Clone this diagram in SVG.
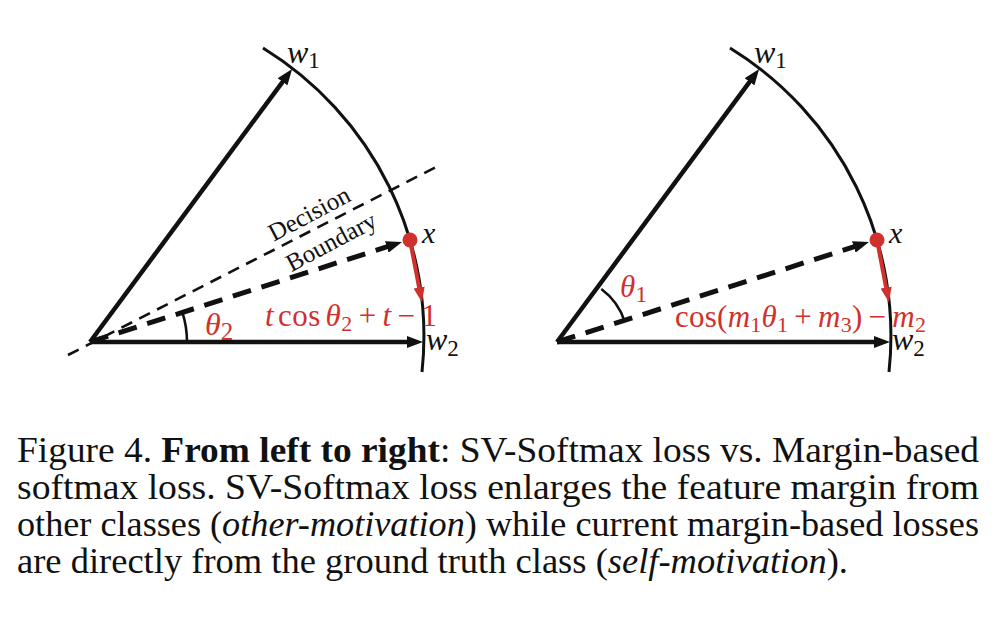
<svg xmlns="http://www.w3.org/2000/svg" width="998" height="630" viewBox="0 0 998 630">
<style>
.bg{fill:#ffffff}
.vec{stroke:#111;stroke-width:4.5;fill:none}
.arc{stroke:#111;stroke-width:3;fill:none}
.ang{stroke:#111;stroke-width:2.6;fill:none}
.dthin{stroke:#111;stroke-width:2.6;stroke-dasharray:12 8;fill:none}
.dthick{stroke:#111;stroke-width:5;stroke-dasharray:19 11;fill:none}
.red{stroke:#d0312d;stroke-width:4;fill:none}
.math{fill:#111}
.mred{fill:#d0312d}
.it{font-style:italic}
.db{font-size:25px;fill:#111}
.cap{font-size:36px;fill:#111}
</style>
<defs>
<marker id="ah" viewBox="0 0 16 12" refX="4" refY="6" markerWidth="16" markerHeight="12" markerUnits="userSpaceOnUse" orient="auto">
<path d="M0,0 L16,6 L0,12 z" fill="#111"/>
</marker>
<marker id="ahr" viewBox="0 0 16 12" refX="4" refY="6" markerWidth="15" markerHeight="13" markerUnits="userSpaceOnUse" orient="auto">
<path d="M0,0 L16,6 L0,12 z" fill="#d0312d"/>
</marker>
</defs>
<rect class="bg" x="0" y="0" width="998" height="630"/>

<g font-family="Liberation Serif, Times New Roman, Times, serif">
<!-- Left panel -->
<g id="left-panel">
<g id="left-arc"><path class="arc" d="M263,48 A338,338 0 0 1 422,372"/></g>
<g id="left-boundary"><line class="dthin" x1="68" y1="355" x2="440" y2="165"/></g>
<g id="left-angle"><path class="ang" d="M187,342 A97,97 0 0 0 182.4,312.3"/></g>
<g id="left-connectors">
<line class="vec" x1="90" y1="342" x2="285" y2="78.6" marker-end="url(#ah)"/>
<line class="vec" x1="90" y1="342" x2="411" y2="342" marker-end="url(#ah)"/>
<line class="dthick" x1="90" y1="342" x2="390.6" y2="245.7" marker-end="url(#ah)"/>
<line class="red" x1="410" y1="240" x2="419.8" y2="291.2" marker-end="url(#ahr)"/>
</g>
<g id="left-x"><circle cx="410" cy="240" r="7.5" fill="#d0312d"/>
<text class="math it" x="422" y="243" font-size="30">x</text></g>
<g id="left-w1"><text class="math" x="287" y="63" font-size="32"><tspan class="it">w</tspan><tspan font-size="23" dy="5">1</tspan></text></g>
<g id="left-w2"><text class="math" x="426" y="350" font-size="32"><tspan class="it">w</tspan><tspan font-size="23" dy="6">2</tspan></text></g>
<g id="left-theta"><text class="mred" x="205" y="335" font-size="32"><tspan class="it">θ</tspan><tspan font-size="25" dy="5">2</tspan></text></g>
<g id="left-formula"><text class="mred" x="265" y="326" font-size="31" textLength="172"><tspan class="it">t</tspan><tspan dx="4">cos</tspan><tspan class="it" dx="5">θ</tspan><tspan font-size="22" dy="5">2</tspan><tspan dx="6" dy="-5">+</tspan><tspan class="it" dx="6">t</tspan><tspan dx="6">−</tspan><tspan dx="6">1</tspan></text></g>
<g id="left-label"><text class="db" text-anchor="middle" transform="translate(313,221) rotate(-28)">Decision</text>
<text class="db" text-anchor="middle" transform="translate(335,249) rotate(-28)">Boundary</text></g>
</g>

<!-- Right panel -->
<g id="right-panel">
<g id="right-arc"><path class="arc" d="M730,48 A338,338 0 0 1 889,372"/></g>
<g id="right-angle"><path class="ang" d="M624.8,321.8 A66,66 0 0 0 601.3,289"/></g>
<g id="right-connectors">
<line class="vec" x1="557" y1="342" x2="752" y2="78.6" marker-end="url(#ah)"/>
<line class="vec" x1="557" y1="342" x2="878" y2="342" marker-end="url(#ah)"/>
<line class="dthick" x1="557" y1="342" x2="857.6" y2="245.7" marker-end="url(#ah)"/>
<line class="red" x1="877" y1="240" x2="886.8" y2="291.2" marker-end="url(#ahr)"/>
</g>
<g id="right-x"><circle cx="877" cy="240" r="7.5" fill="#d0312d"/>
<text class="math it" x="889" y="243" font-size="30">x</text></g>
<g id="right-w1"><text class="math" x="754" y="63" font-size="32"><tspan class="it">w</tspan><tspan font-size="23" dy="5">1</tspan></text></g>
<g id="right-w2"><text class="math" x="892" y="350" font-size="32"><tspan class="it">w</tspan><tspan font-size="23" dy="6">2</tspan></text></g>
<g id="right-theta"><text class="mred" x="620" y="297" font-size="31"><tspan class="it">θ</tspan><tspan font-size="24" dy="5">1</tspan></text></g>
<g id="right-formula"><text class="mred" x="675" y="327" font-size="31" textLength="251">cos(<tspan class="it">m</tspan><tspan font-size="22" dy="5">1</tspan><tspan class="it" dy="-5">θ</tspan><tspan font-size="22" dy="5">1</tspan><tspan dx="6" dy="-5">+</tspan><tspan class="it" dx="6">m</tspan><tspan font-size="22" dy="5">3</tspan><tspan dy="-5">)</tspan><tspan dx="6">−</tspan><tspan class="it" dx="6">m</tspan><tspan font-size="22" dy="5">2</tspan></text></g>
</g>

<!-- Caption -->
<g id="caption">
<text class="cap" x="17" y="462" textLength="962" lengthAdjust="spacingAndGlyphs">Figure 4. <tspan font-weight="bold">From left to right</tspan>: SV-Softmax loss vs.  Margin-based</text>
<text class="cap" x="17" y="499" textLength="962" lengthAdjust="spacingAndGlyphs">softmax loss. SV-Softmax loss enlarges the feature margin from</text>
<text class="cap" x="17" y="536" textLength="962" lengthAdjust="spacingAndGlyphs">other classes (<tspan font-style="italic">other-motivation</tspan>) while current margin-based losses</text>
<text class="cap" x="17" y="573" textLength="831" lengthAdjust="spacingAndGlyphs">are directly from the ground truth class (<tspan font-style="italic">self-motivation</tspan>).</text>
</g>
</g>
</svg>
